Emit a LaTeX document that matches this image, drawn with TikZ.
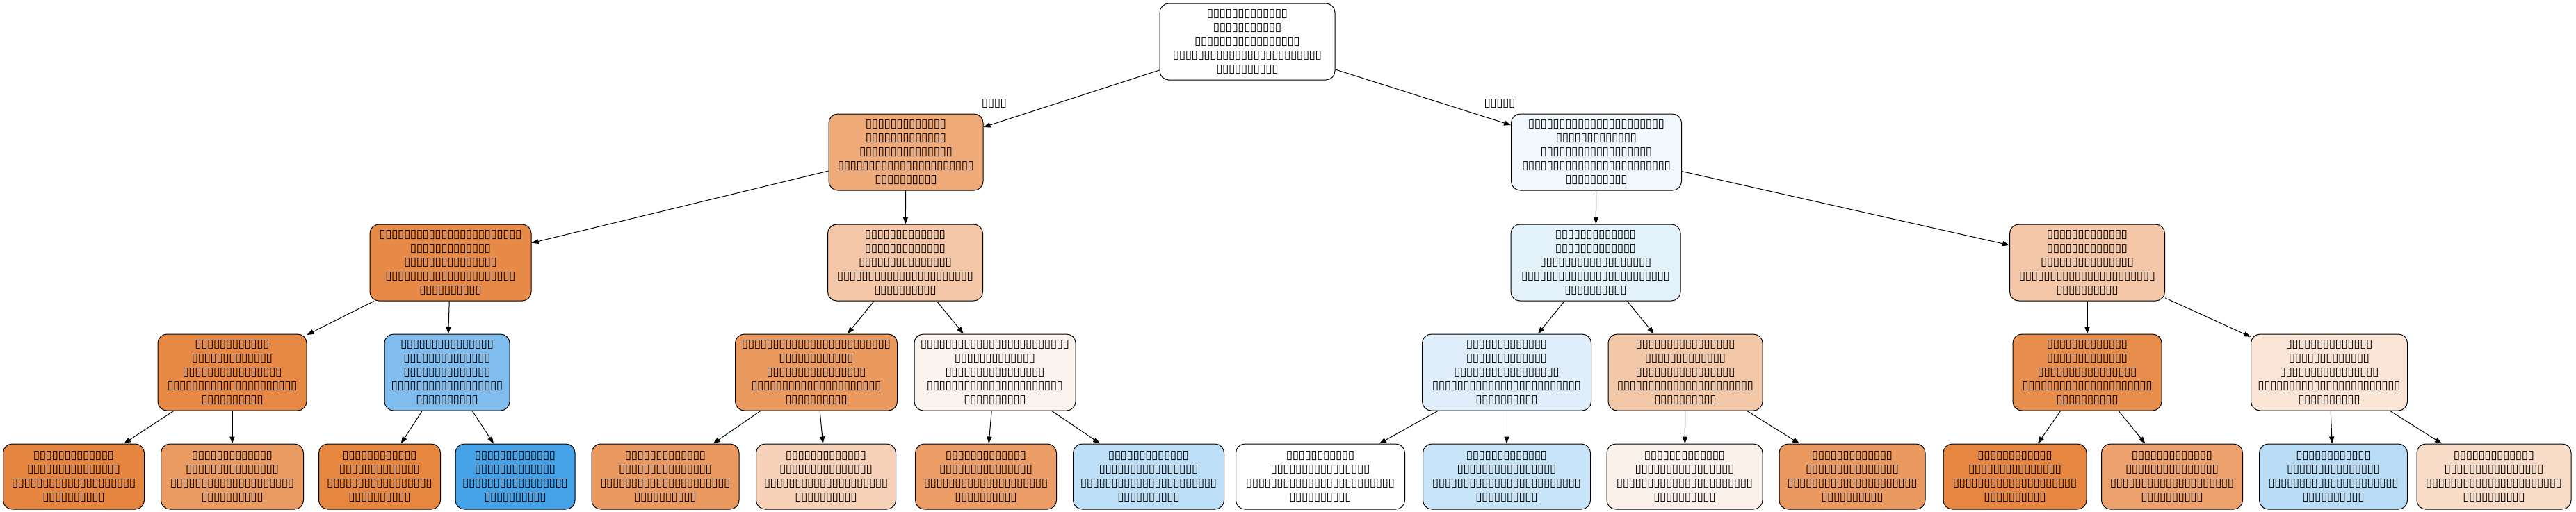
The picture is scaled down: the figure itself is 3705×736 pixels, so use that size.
\documentclass[tikz,border=0pt]{standalone}
\usepackage{fontspec}
\usetikzlibrary{arrows.meta}
\newfontfamily\tofufont{DejaVu Sans}
\newcommand\tb{\makebox[4.45pt]{▯}}
\ExplSyntaxOn
\cs_new:Npn \tf #1 { \prg_replicate:nn {#1} { \tb } }
\ExplSyntaxOff
\definecolor{cR}{HTML}{FFFFFF}
\definecolor{cA}{HTML}{EFAA7A}
\definecolor{cB}{HTML}{F0F7FD}
\definecolor{cAA}{HTML}{E78A47}
\definecolor{cAB}{HTML}{F3C7A7}
\definecolor{cBA}{HTML}{E3F1FB}
\definecolor{cBB}{HTML}{F3C7A7}
\definecolor{cAAA}{HTML}{E78945}
\definecolor{cAAB}{HTML}{80BDEE}
\definecolor{cABA}{HTML}{EA995F}
\definecolor{cABB}{HTML}{FBF4EE}
\definecolor{cBAA}{HTML}{DFEEFA}
\definecolor{cBAB}{HTML}{F3C8A9}
\definecolor{cBBA}{HTML}{E88E4D}
\definecolor{cBBB}{HTML}{FAE5D6}
\definecolor{l1}{HTML}{E6853F}
\definecolor{l2}{HTML}{EA9B62}
\definecolor{l3}{HTML}{E7873F}
\definecolor{l4}{HTML}{45A2E6}
\definecolor{l5}{HTML}{EA9A60}
\definecolor{l6}{HTML}{F6D1B7}
\definecolor{l7}{HTML}{EB9D65}
\definecolor{l8}{HTML}{BCDEF6}
\definecolor{l9}{HTML}{FFFFFF}
\definecolor{l10}{HTML}{C8E4F8}
\definecolor{l11}{HTML}{FCF1EA}
\definecolor{l12}{HTML}{EA9A60}
\definecolor{l13}{HTML}{E78641}
\definecolor{l14}{HTML}{EDA16D}
\definecolor{l15}{HTML}{B9DCF6}
\definecolor{l16}{HTML}{F8DCC8}
\tikzset{
  tn/.style={draw=black, line width=0.5pt, rounded corners=6.5pt, align=center,
    inner sep=0pt, minimum height=55pt,
    font=\tofufont\fontsize{8.5pt}{10pt}\selectfont},
  lf/.style={tn, minimum height=47pt},
  el/.style={inner sep=0pt, font=\tofufont\fontsize{8.5pt}{10pt}\selectfont},
  ed/.style={line width=0.5pt, -{Triangle[length=5pt,width=3.6pt]}}
}
\begin{document}
\begin{tikzpicture}[x=0.5pt,y=-0.5pt]
\useasboundingbox (0,0) rectangle (3705,736);
% level 0
\node[tn, minimum width=126pt, fill=cR] (r) at (1794,60) {\tf{13}\\\tf{11}\\\tf{17}\\\tf{24}\\\tf{10}};
% level 1
\node[tn, minimum width=111pt, fill=cA] (a) at (1303,219) {\tf{13}\\\tf{13}\\\tf{15}\\\tf{22}\\\tf{10}};
\node[tn, minimum width=122.5pt, fill=cB] (b) at (2296,219) {\tf{22}\\\tf{13}\\\tf{18}\\\tf{24}\\\tf{10}};
% level 2
\node[tn, minimum width=116pt, fill=cAA] (aa) at (648,378) {\tf{23}\\\tf{13}\\\tf{15}\\\tf{21}\\\tf{10}};
\node[tn, minimum width=111.5pt, fill=cAB] (ab) at (1302,378) {\tf{13}\\\tf{13}\\\tf{15}\\\tf{22}\\\tf{10}};
\node[tn, minimum width=122pt, fill=cBA] (ba) at (2295,378) {\tf{13}\\\tf{13}\\\tf{18}\\\tf{24}\\\tf{10}};
\node[tn, minimum width=111.5pt, fill=cBB] (bb) at (3002,378) {\tf{13}\\\tf{13}\\\tf{15}\\\tf{22}\\\tf{10}};
% level 3
\node[tn, minimum width=107pt, fill=cAAA] (aaa) at (334,536) {\tf{12}\\\tf{13}\\\tf{16}\\\tf{21}\\\tf{10}};
\node[tn, minimum width=90pt, fill=cAAB] (aab) at (643,536) {\tf{15}\\\tf{14}\\\tf{14}\\\tf{18}\\\tf{10}};
\node[tn, minimum width=116.5pt, fill=cABA] (aba) at (1174,536) {\tf{24}\\\tf{12}\\\tf{16}\\\tf{21}\\\tf{10}};
\node[tn, minimum width=116pt, fill=cABB] (abb) at (1431,536) {\tf{24}\\\tf{13}\\\tf{16}\\\tf{22}\\\tf{10}};
\node[tn, minimum width=121.5pt, fill=cBAA] (baa) at (2167,536) {\tf{13}\\\tf{13}\\\tf{17}\\\tf{24}\\\tf{10}};
\node[tn, minimum width=111pt, fill=cBAB] (bab) at (2424,536) {\tf{16}\\\tf{13}\\\tf{16}\\\tf{22}\\\tf{10}};
\node[tn, minimum width=107pt, fill=cBBA] (bba) at (3002,536) {\tf{13}\\\tf{13}\\\tf{16}\\\tf{21}\\\tf{10}};
\node[tn, minimum width=112.5pt, fill=cBBB] (bbb) at (3350,536) {\tf{14}\\\tf{13}\\\tf{16}\\\tf{23}\\\tf{10}};
% level 4 (leaves)
\node[lf, minimum width=101.5pt, fill=l1] (n1) at (106,686) {\tf{13}\\\tf{15}\\\tf{20}\\\tf{10}};
\node[lf, minimum width=102.5pt, fill=l2] (n2) at (334,686) {\tf{13}\\\tf{15}\\\tf{20}\\\tf{10}};
\node[lf, minimum width=87.5pt, fill=l3] (n3) at (546,686) {\tf{12}\\\tf{13}\\\tf{17}\\\tf{10}};
\node[lf, minimum width=86pt, fill=l4] (n4) at (741,686) {\tf{13}\\\tf{13}\\\tf{17}\\\tf{10}};
\node[lf, minimum width=106pt, fill=l5] (n5) at (957,686) {\tf{13}\\\tf{15}\\\tf{21}\\\tf{10}};
\node[lf, minimum width=100.5pt, fill=l6] (n6) at (1188,686) {\tf{13}\\\tf{15}\\\tf{20}\\\tf{10}};
\node[lf, minimum width=101.5pt, fill=l7] (n7) at (1418,686) {\tf{13}\\\tf{15}\\\tf{20}\\\tf{10}};
\node[lf, minimum width=108.5pt, fill=l8] (n8) at (1652,686) {\tf{13}\\\tf{16}\\\tf{22}\\\tf{10}};
\node[lf, minimum width=121.5pt, fill=l9] (n9) at (1899,686) {\tf{11}\\\tf{16}\\\tf{24}\\\tf{10}};
\node[lf, minimum width=120.5pt, fill=l10] (n10) at (2167,686) {\tf{13}\\\tf{16}\\\tf{24}\\\tf{10}};
\node[lf, minimum width=112pt, fill=l11] (n11) at (2423,686) {\tf{13}\\\tf{16}\\\tf{22}\\\tf{10}};
\node[lf, minimum width=105pt, fill=l12] (n12) at (2664,686) {\tf{13}\\\tf{15}\\\tf{21}\\\tf{10}};
\node[lf, minimum width=103pt, fill=l13] (n13) at (2898,686) {\tf{12}\\\tf{15}\\\tf{20}\\\tf{10}};
\node[lf, minimum width=101.5pt, fill=l14] (n14) at (3124,686) {\tf{13}\\\tf{15}\\\tf{20}\\\tf{10}};
\node[lf, minimum width=106.5pt, fill=l15] (n15) at (3356,686) {\tf{12}\\\tf{15}\\\tf{21}\\\tf{10}};
\node[lf, minimum width=111pt, fill=l16] (n16) at (3587,686) {\tf{13}\\\tf{16}\\\tf{22}\\\tf{10}};
% edge labels
\node[el] (lt) at (1430,149) {\tf{4}};
\node[el] (lfl) at (2157,149) {\tf{5}};
% edges
\draw[ed] (r) -- (a);
\draw[ed] (r) -- (b);
\draw[ed] (a) -- (aa);
\draw[ed] (a) -- (ab);
\draw[ed] (b) -- (ba);
\draw[ed] (b) -- (bb);
\draw[ed] (aa) -- (aaa);
\draw[ed] (aa) -- (aab);
\draw[ed] (ab) -- (aba);
\draw[ed] (ab) -- (abb);
\draw[ed] (ba) -- (baa);
\draw[ed] (ba) -- (bab);
\draw[ed] (bb) -- (bba);
\draw[ed] (bb) -- (bbb);
\draw[ed] (aaa) -- (n1);
\draw[ed] (aaa) -- (n2);
\draw[ed] (aab) -- (n3);
\draw[ed] (aab) -- (n4);
\draw[ed] (aba) -- (n5);
\draw[ed] (aba) -- (n6);
\draw[ed] (abb) -- (n7);
\draw[ed] (abb) -- (n8);
\draw[ed] (baa) -- (n9);
\draw[ed] (baa) -- (n10);
\draw[ed] (bab) -- (n11);
\draw[ed] (bab) -- (n12);
\draw[ed] (bba) -- (n13);
\draw[ed] (bba) -- (n14);
\draw[ed] (bbb) -- (n15);
\draw[ed] (bbb) -- (n16);
\end{tikzpicture}
\end{document}
